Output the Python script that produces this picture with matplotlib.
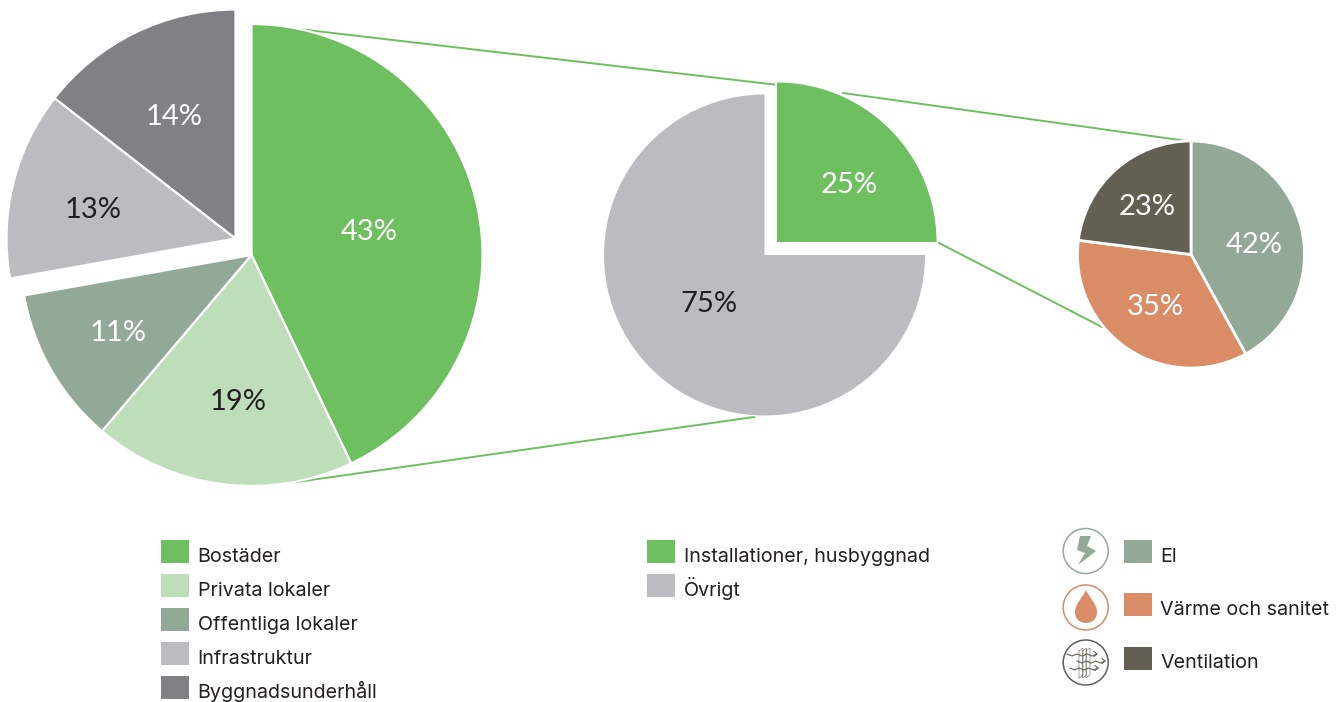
import matplotlib
matplotlib.use("Agg")
import matplotlib.pyplot as plt
from matplotlib.patches import Circle, Polygon, Rectangle, PathPatch
from matplotlib.path import Path

# andelar, etiketterna är de tryckta talen
segment = ["Bostäder", "Privata lokaler", "Offentliga lokaler", "Infrastruktur", "Byggnadsunderhåll"]
segment_andel = [42.9, 18.3, 11.0, 13.3, 14.5]
segment_text = ["43%", "19%", "11%", "13%", "14%"]
segment_farg = ["#6DBF5F", "#BDDEB9", "#92A997", "#BBBCC0", "#808185"]

hus = ["Installationer, husbyggnad", "Övrigt"]
hus_andel = [25, 75]
hus_text = ["25%", "75%"]
hus_farg = ["#6DBF5F", "#BBBCC0"]

inst = ["El", "Värme och sanitet", "Ventilation"]
inst_andel = [42, 35, 23]
inst_text = ["42%", "35%", "23%"]
inst_farg = ["#92A997", "#D98C66", "#635F52"]

MORK = "#231F20"
GRON = "#6DBF5F"

plt.rcParams["font.family"] = ["Inter", "DejaVu Sans"]

fig = plt.figure(figsize=(13.44, 7.02), dpi=100)
ax = fig.add_axes([0, 0, 1, 1])
ax.set_xlim(0, 1344)
ax.set_ylim(702, 0)
ax.axis("off")


def kaka(andelar, farger, cx, cy, r, start=90, kant=1.6, z=3):
    # y-axeln är omvänd, så vinklarna speglas
    wedges, _ = ax.pie(andelar, colors=farger, startangle=-start, counterclock=True,
                       center=(cx, cy), radius=r, frame=True,
                       wedgeprops={"edgecolor": "white", "linewidth": kant, "zorder": z})
    return wedges


def procent(x, y, txt, farg):
    ax.text(x, y, txt, fontsize=21, color=farg, ha="center", va="center",
            family=["Lato Light", "Lato", "DejaVu Sans"], zorder=6)


# linjerna mellan kakorna
ax.plot([290, 774], [28, 84.5], color=GRON, lw=1.4, zorder=1)
ax.plot([843, 1187], [93, 141], color=GRON, lw=1.4, zorder=1)
ax.plot([297, 754], [482, 417], color=GRON, lw=1.4, zorder=1)
ax.plot([939, 1102], [243, 327], color=GRON, lw=1.4, zorder=1)

# vänstra kakan: de två sista bitarna är utskjutna
w = kaka(segment_andel[:3] + [sum(segment_andel[3:])], segment_farg[:3] + ["none"], 251.5, 255, 231)
w[3].set_visible(False)
vinkel = 360 * sum(segment_andel[:3]) / 100
w2 = kaka(segment_andel[3:] + [sum(segment_andel[:3])], segment_farg[3:] + ["none"], 235.5, 238.5, 229,
          start=90 - vinkel)
w2[2].set_visible(False)
for (x, y), t, f in zip([(369, 232), (238, 402), (118, 333), (93, 210), (174, 117)], segment_text,
                        ["white", MORK, "white", MORK, "white"]):
    procent(x, y, t, f)

# mittenkakan
w = kaka([hus_andel[1], hus_andel[0]], [hus_farg[1], "none"], 764.5, 255, 160.5, start=0, kant=0)
w[1].set_visible(False)
w = kaka([hus_andel[0], hus_andel[1]], [hus_farg[0], "none"], 777, 242, 159.5, kant=0)
w[1].set_visible(False)
procent(849, 185, hus_text[0], "white")
procent(709, 304, hus_text[1], MORK)

# högra kakan
kaka(inst_andel, inst_farg, 1191, 254.5, 113.5, kant=2)
procent(1254, 245, inst_text[0], "white")
procent(1155, 307, inst_text[1], "white")
procent(1147, 207, inst_text[2], "white")

ax.set_xlim(0, 1344)
ax.set_ylim(702, 0)
ax.set_aspect("equal")
ax.axis("off")


def legend(x, y0, steg, namn, farger, tx):
    for i, (n, f) in enumerate(zip(namn, farger)):
        y = y0 + i * steg
        ax.add_patch(Rectangle((x, y - 12), 28, 23, fc=f, ec="none"))
        ax.text(tx, y + 9.7, n, fontsize=14.2, color=MORK, va="baseline", ha="left")


legend(161, 552, 34, segment, segment_farg, 197.5)
legend(647, 552, 34, hus, hus_farg, 683.5)
legend(1124, 552, 53.3, inst, inst_farg, 1160.5)

# ikoner
for cy, f in zip([551, 607.5, 662.5], inst_farg):
    ax.add_patch(Circle((1085.7, cy), 22.5, fc="white", ec=f, lw=1.1))
ax.add_patch(Polygon([(1080, 536), (1091, 536), (1087, 546), (1096, 551), (1078, 565), (1085, 553), (1077, 550)],
                     fc="#92A997", ec="none"))
drop = Path([(1086, 590), (1083, 597), (1075, 604), (1075, 612), (1075, 619), (1080, 623), (1086, 623),
             (1092, 623), (1097, 619), (1097, 612), (1097, 604), (1089, 597), (1086, 590)],
            [Path.MOVETO] + [Path.CURVE4] * 12)
ax.add_patch(PathPatch(drop, fc="#D98C66", ec="none"))
for dx in (0, 3.5, 7):
    ax.plot([1079 + dx, 1079 + dx, 1083 + dx, 1083 + dx, 1079 + dx], [651, 678, 675, 648, 651],
            color="#635F52", lw=0.4)
for yy, x0, x1 in [(655, 1067, 1097), (662, 1077, 1105), (669, 1070, 1098)]:
    xs = [x0 + (x1 - x0) * k / 6 for k in range(7)]
    ys = [yy + (1 if k % 2 else -1) for k in range(7)]
    ax.plot(xs, ys, color="#635F52", lw=0.8)
    ax.plot([x1 - 3, x1, x1 - 3], [ys[-1] - 2.5, ys[-1], ys[-1] + 2.5], color="#635F52", lw=0.8)

fig.savefig("out.png", dpi=100, facecolor="white")
